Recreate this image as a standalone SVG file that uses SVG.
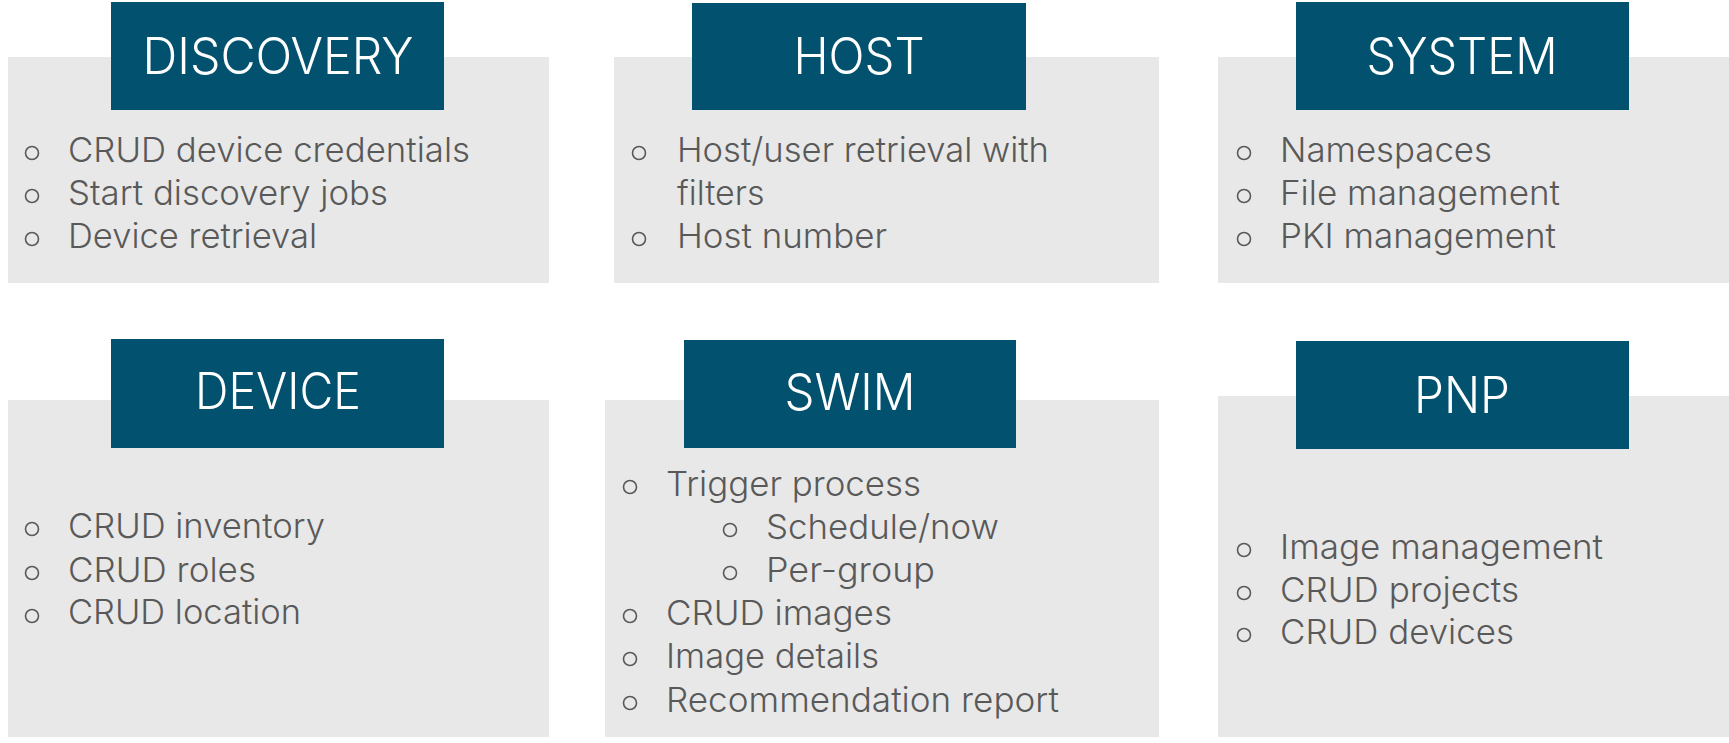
<svg xmlns="http://www.w3.org/2000/svg" width="1729" height="743" viewBox="0 0 1729 743">
<style>
.panel{fill:#e8e8e8}
.head{fill:#02516f}
.title{font-family:"Inter","Liberation Sans",sans-serif;font-weight:300;font-size:50px;fill:#ffffff;text-anchor:middle}
.item{font-family:"Inter","Liberation Sans",sans-serif;font-weight:300;font-size:34px;fill:#595959}
.bul{fill:none;stroke:#595959;stroke-width:1.6}
</style>
<rect width="1729" height="743" fill="#ffffff"/>
<g id="discovery">
<rect class="panel" x="8" y="57" width="541" height="226"/>
<rect class="head" x="111" y="2" width="333" height="108"/>
<text class="title" x="278" y="74" textLength="271" lengthAdjust="spacingAndGlyphs">DISCOVERY</text>
<circle class="bul" cx="32" cy="153" r="6.5"/>
<circle class="bul" cx="32" cy="196" r="6.5"/>
<circle class="bul" cx="32" cy="239" r="6.5"/>
<text class="item" x="68" y="162" textLength="402" lengthAdjust="spacingAndGlyphs">CRUD device credentials</text>
<text class="item" x="68" y="205" textLength="320" lengthAdjust="spacingAndGlyphs">Start discovery jobs</text>
<text class="item" x="68" y="248" textLength="249" lengthAdjust="spacingAndGlyphs">Device retrieval</text>
</g>
<g id="host">
<rect class="panel" x="614" y="57" width="545" height="226"/>
<rect class="head" x="692" y="3" width="334" height="107"/>
<text class="title" x="859" y="74" textLength="131" lengthAdjust="spacingAndGlyphs">HOST</text>
<circle class="bul" cx="639" cy="153" r="6.5"/>
<circle class="bul" cx="639" cy="239" r="6.5"/>
<text class="item" x="677" y="162" textLength="372" lengthAdjust="spacingAndGlyphs">Host/user retrieval with</text>
<text class="item" x="677" y="205">filters</text>
<text class="item" x="677" y="248" textLength="210" lengthAdjust="spacingAndGlyphs">Host number</text>
</g>
<g id="system">
<rect class="panel" x="1218" y="57" width="511" height="226"/>
<rect class="head" x="1296" y="2" width="333" height="108"/>
<text class="title" x="1462" y="74" textLength="191" lengthAdjust="spacingAndGlyphs">SYSTEM</text>
<circle class="bul" cx="1244" cy="153" r="6.5"/>
<circle class="bul" cx="1244" cy="196" r="6.5"/>
<circle class="bul" cx="1244" cy="239" r="6.5"/>
<text class="item" x="1280" y="162" textLength="212" lengthAdjust="spacingAndGlyphs">Namespaces</text>
<text class="item" x="1280" y="205" textLength="280" lengthAdjust="spacingAndGlyphs">File management</text>
<text class="item" x="1280" y="248" textLength="276" lengthAdjust="spacingAndGlyphs">PKI management</text>
</g>
<g id="device">
<rect class="panel" x="8" y="400" width="541" height="337"/>
<rect class="head" x="111" y="339" width="333" height="109"/>
<text class="title" x="278" y="409" textLength="166" lengthAdjust="spacingAndGlyphs">DEVICE</text>
<circle class="bul" cx="32" cy="529" r="6.5"/>
<circle class="bul" cx="32" cy="573" r="6.5"/>
<circle class="bul" cx="32" cy="616" r="6.5"/>
<text class="item" x="68" y="538" textLength="257" lengthAdjust="spacingAndGlyphs">CRUD inventory</text>
<text class="item" x="68" y="582" textLength="188" lengthAdjust="spacingAndGlyphs">CRUD roles</text>
<text class="item" x="68" y="624" textLength="233" lengthAdjust="spacingAndGlyphs">CRUD location</text>
</g>
<g id="swim">
<rect class="panel" x="605" y="400" width="554" height="337"/>
<rect class="head" x="684" y="340" width="332" height="108"/>
<text class="title" x="850" y="410" textLength="131" lengthAdjust="spacingAndGlyphs">SWIM</text>
<circle class="bul" cx="630" cy="487" r="6.5"/>
<circle class="bul" cx="730" cy="530" r="6.5"/>
<circle class="bul" cx="730" cy="573" r="6.5"/>
<circle class="bul" cx="630" cy="616" r="6.5"/>
<circle class="bul" cx="630" cy="659" r="6.5"/>
<circle class="bul" cx="630" cy="703" r="6.5"/>
<text class="item" x="666" y="496" textLength="255" lengthAdjust="spacingAndGlyphs">Trigger process</text>
<text class="item" x="766" y="539" textLength="233" lengthAdjust="spacingAndGlyphs">Schedule/now</text>
<text class="item" x="766" y="582" textLength="169" lengthAdjust="spacingAndGlyphs">Per-group</text>
<text class="item" x="666" y="625" textLength="226" lengthAdjust="spacingAndGlyphs">CRUD images</text>
<text class="item" x="666" y="668" textLength="213" lengthAdjust="spacingAndGlyphs">Image details</text>
<text class="item" x="666" y="712" textLength="393" lengthAdjust="spacingAndGlyphs">Recommendation report</text>
</g>
<g id="pnp">
<rect class="panel" x="1218" y="396" width="511" height="341"/>
<rect class="head" x="1296" y="341" width="333" height="108"/>
<text class="title" x="1462" y="413" textLength="96" lengthAdjust="spacingAndGlyphs">PNP</text>
<circle class="bul" cx="1244" cy="550" r="6.5"/>
<circle class="bul" cx="1244" cy="593" r="6.5"/>
<circle class="bul" cx="1244" cy="635" r="6.5"/>
<text class="item" x="1280" y="559" textLength="323" lengthAdjust="spacingAndGlyphs">Image management</text>
<text class="item" x="1280" y="602" textLength="239" lengthAdjust="spacingAndGlyphs">CRUD projects</text>
<text class="item" x="1280" y="644" textLength="234" lengthAdjust="spacingAndGlyphs">CRUD devices</text>
</g>
<g id="connectors"/>
</svg>
